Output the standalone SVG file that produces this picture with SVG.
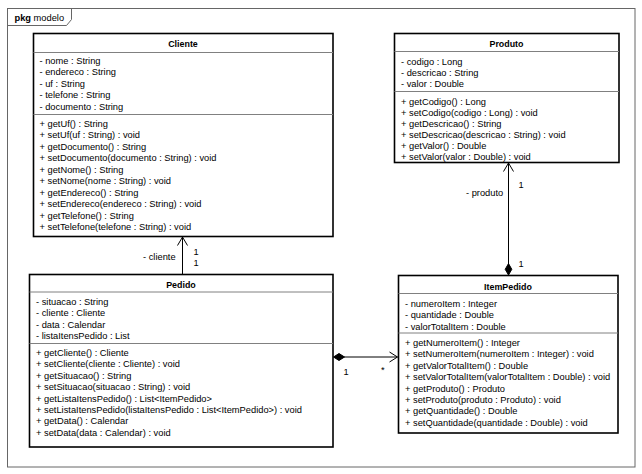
<svg xmlns="http://www.w3.org/2000/svg" width="642" height="474" viewBox="0 0 642 474">
<style>
text{font-family:"Liberation Sans",Arial,sans-serif;font-size:9.3px;fill:#000}
.t{font-weight:bold;text-anchor:middle;font-size:8.9px}
.box{fill:#fff;stroke:#000;stroke-width:1.6}
.sep{stroke:#808080;stroke-width:1}
.ln{stroke:#000;stroke-width:1;fill:none}
.dia{fill:#000;stroke:#000;stroke-width:1}
</style>
<rect width="642" height="474" fill="#fff"/>
<g id="frame">
<rect x="7.5" y="8.5" width="627.5" height="458.5" fill="none" stroke="#666" stroke-width="1"/>
<path d="M7.5 25.5 H66.5 L71.5 19.5 V8.5" fill="none" stroke="#666" stroke-width="1"/>
<text x="14.5" y="21"><tspan font-weight="bold">pkg</tspan> modelo</text>
</g>
<g id="connectors">
<line class="ln" x1="182.5" y1="274" x2="182.5" y2="237"/>
<polyline class="ln" points="177.5,245.5 182.5,237 187.5,245.5"/>
<text x="143" y="260">- cliente</text>
<text x="193.5" y="255">1</text>
<text x="193.5" y="266">1</text>
<line class="ln" x1="508.5" y1="264" x2="508.5" y2="163"/>
<polyline class="ln" points="503.5,171.5 508.5,163 513.5,171.5"/>
<polygon class="dia" points="508.5,275 511.8,269.3 508.5,263.6 505.2,269.3"/>
<text x="466" y="196">- produto</text>
<text x="518.5" y="188">1</text>
<text x="518.5" y="267">1</text>
<line class="ln" x1="344" y1="357" x2="397.5" y2="357"/>
<polyline class="ln" points="389.5,352 397.5,357 389.5,362"/>
<polygon class="dia" points="333.5,357 339,353.5 344.5,357 339,360.5"/>
<text x="343.5" y="375">1</text>
<text x="381" y="373">*</text>
</g>
<g id="Cliente">
<rect class="box" x="33.5" y="33.5" width="299.5" height="203"/>
<line class="sep" x1="33.5" y1="52.5" x2="333" y2="52.5"/>
<line class="sep" x1="33.5" y1="114.5" x2="333" y2="114.5"/>
<text class="t" x="183" y="46.5">Cliente</text>
<text x="39.5" y="64"><tspan x="39.5">- nome : String</tspan><tspan x="39.5" dy="11.4">- endereco : String</tspan><tspan x="39.5" dy="11.4">- uf : String</tspan><tspan x="39.5" dy="11.4">- telefone : String</tspan><tspan x="39.5" dy="11.4">- documento : String</tspan></text>
<text x="39.5" y="127"><tspan x="39.5">+ getUf() : String</tspan><tspan x="39.5" dy="11.44">+ setUf(uf : String) : void</tspan><tspan x="39.5" dy="11.44">+ getDocumento() : String</tspan><tspan x="39.5" dy="11.44">+ setDocumento(documento : String) : void</tspan><tspan x="39.5" dy="11.44">+ getNome() : String</tspan><tspan x="39.5" dy="11.44">+ setNome(nome : String) : void</tspan><tspan x="39.5" dy="11.44">+ getEndereco() : String</tspan><tspan x="39.5" dy="11.44">+ setEndereco(endereco : String) : void</tspan><tspan x="39.5" dy="11.44">+ getTelefone() : String</tspan><tspan x="39.5" dy="11.44">+ setTelefone(telefone : String) : void</tspan></text>
</g>
<g id="Produto">
<rect class="box" x="394.5" y="33.5" width="224.5" height="129"/>
<line class="sep" x1="394.5" y1="51.5" x2="619" y2="51.5"/>
<line class="sep" x1="394.5" y1="91.5" x2="619" y2="91.5"/>
<text class="t" x="506.5" y="46.5">Produto</text>
<text x="401" y="64.7"><tspan x="401">- codigo : Long</tspan><tspan x="401" dy="11.2">- descricao : String</tspan><tspan x="401" dy="11.2">- valor : Double</tspan></text>
<text x="401" y="104.5"><tspan x="401">+ getCodigo() : Long</tspan><tspan x="401" dy="11.1">+ setCodigo(codigo : Long) : void</tspan><tspan x="401" dy="11.1">+ getDescricao() : String</tspan><tspan x="401" dy="11.1">+ setDescricao(descricao : String) : void</tspan><tspan x="401" dy="11.1">+ getValor() : Double</tspan><tspan x="401" dy="11.1">+ setValor(valor : Double) : void</tspan></text>
</g>
<g id="Pedido">
<rect class="box" x="29.5" y="274.5" width="303.5" height="172.5"/>
<line class="sep" x1="29.5" y1="292" x2="333" y2="292"/>
<line class="sep" x1="29.5" y1="343.5" x2="333" y2="343.5"/>
<text class="t" x="181" y="288.3">Pedido</text>
<text x="36" y="305"><tspan x="36">- situacao : String</tspan><tspan x="36" dy="11.4">- cliente : Cliente</tspan><tspan x="36" dy="11.4">- data : Calendar</tspan><tspan x="36" dy="11.4">- listaItensPedido : List</tspan></text>
<text x="36" y="356"><tspan x="36">+ getCliente() : Cliente</tspan><tspan x="36" dy="11.4">+ setCliente(cliente : Cliente) : void</tspan><tspan x="36" dy="11.4">+ getSituacao() : String</tspan><tspan x="36" dy="11.4">+ setSituacao(situacao : String) : void</tspan><tspan x="36" dy="11.4">+ getListaItensPedido() : List&lt;ItemPedido&gt;</tspan><tspan x="36" dy="11.4">+ setListaItensPedido(listaItensPedido : List&lt;ItemPedido&gt;) : void</tspan><tspan x="36" dy="11.4">+ getData() : Calendar</tspan><tspan x="36" dy="11.4">+ setData(data : Calendar) : void</tspan></text>
</g>
<g id="ItemPedido">
<rect class="box" x="398.5" y="275.5" width="219.5" height="157.5"/>
<line class="sep" x1="398.5" y1="293.5" x2="618" y2="293.5"/>
<line class="sep" x1="398.5" y1="333" x2="618" y2="333"/>
<text class="t" x="508" y="290.3">ItemPedido</text>
<text x="405" y="307"><tspan x="405">- numeroItem : Integer</tspan><tspan x="405" dy="11.3">- quantidade : Double</tspan><tspan x="405" dy="11.3">- valorTotalItem : Double</tspan></text>
<text x="405" y="346"><tspan x="405">+ getNumeroItem() : Integer</tspan><tspan x="405" dy="11.4">+ setNumeroItem(numeroItem : Integer) : void</tspan><tspan x="405" dy="11.4">+ getValorTotalItem() : Double</tspan><tspan x="405" dy="11.4">+ setValorTotalItem(valorTotalItem : Double) : void</tspan><tspan x="405" dy="11.4">+ getProduto() : Produto</tspan><tspan x="405" dy="11.4">+ setProduto(produto : Produto) : void</tspan><tspan x="405" dy="11.4">+ getQuantidade() : Double</tspan><tspan x="405" dy="11.4">+ setQuantidade(quantidade : Double) : void</tspan></text>
</g>
</svg>
